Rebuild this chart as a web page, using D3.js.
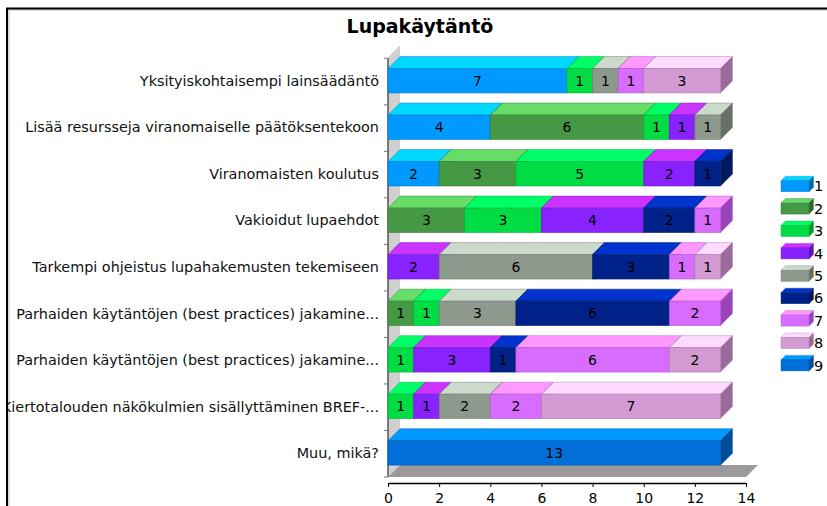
<!DOCTYPE html>
<html>
<head>
<meta charset="utf-8">
<script src="https://cdn.jsdelivr.net/npm/d3@7"></script>
<style>
  html, body { margin: 0; padding: 0; background: #ffffff; }
  svg { display: block; font-family: "DejaVu Sans", Verdana, sans-serif; }
</style>
</head>
<body>
<svg id="chart" width="827" height="506"></svg>
<script>
// ---- data ----
const title = "Lupakäytäntö";
const categories = [
  "Yksityiskohtaisempi lainsäädäntö",
  "Lisää resursseja viranomaiselle päätöksentekoon",
  "Viranomaisten koulutus",
  "Vakioidut lupaehdot",
  "Tarkempi ohjeistus lupahakemusten tekemiseen",
  "Parhaiden käytäntöjen (best practices) jakamine...",
  "Parhaiden käytäntöjen (best practices) jakamine...",
  "Kiertotalouden näkökulmien sisällyttäminen BREF-...",
  "Muu, mikä?"
];
const seriesNames = ["1", "2", "3", "4", "5", "6", "7", "8", "9"];
const s1 = [7, 4, 2, 0, 0, 0, 0, 0, 0];
const s2 = [0, 6, 3, 3, 0, 1, 0, 0, 0];
const s3 = [1, 1, 5, 3, 0, 1, 1, 1, 0];
const s4 = [0, 1, 2, 4, 2, 0, 3, 1, 0];
const s5 = [1, 1, 0, 0, 6, 3, 0, 2, 0];
const s6 = [0, 0, 1, 2, 3, 6, 1, 0, 0];
const s7 = [1, 0, 0, 1, 1, 2, 6, 2, 0];
const s8 = [3, 0, 0, 0, 1, 0, 2, 7, 0];
const s9 = [0, 0, 0, 0, 0, 0, 0, 0, 13];
const xTicks = [0, 2, 4, 6, 8, 10, 12, 14];

// ---- styles ----
const frontColors = ["#0099ff", "#459945", "#00dd44", "#8822ff", "#8e998e", "#002288", "#d86cff", "#d49ad4", "#006fd9"];
const topColors   = ["#00d8ff", "#66dd66", "#00ff66", "#cc33ff", "#ccdacc", "#0033cc", "#ff99ff", "#ffdcff", "#0099ff"];
const sideColors  = ["#0066aa", "#2e662e", "#009930", "#5c17aa", "#667066", "#001a5c", "#9944bb", "#9a6b9a", "#004c99"];

const allSeries = [s1, s2, s3, s4, s5, s6, s7, s8, s9];
const rows = categories.map((c, i) => {
  const r = { idx: i, cat: c };
  seriesNames.forEach((s, k) => { r[s] = allSeries[k][i]; });
  return r;
});

const svg = d3.select("#chart");
const D = 12; // 3D depth

const x = d3.scaleLinear().domain([0, 14]).range([388, 746]);
const y = d3.scaleBand().domain(d3.range(categories.length)).range([58.3, 477]).padding(0);
const bw = y.bandwidth();
const frontOff = bw * 0.22, frontH = bw * 0.525;

// ---- frame ----
svg.append("line").attr("x1", 6).attr("x2", 827).attr("y1", 10).attr("y2", 10).attr("stroke", "#bbbbbb").attr("stroke-width", 1);
svg.append("line").attr("x1", 9).attr("x2", 9).attr("y1", 9).attr("y2", 506).attr("stroke", "#bbbbbb").attr("stroke-width", 1);

// ---- title ----
svg.append("text").attr("x", 420).attr("y", 33).attr("text-anchor", "middle")
  .attr("font-size", 19).attr("font-weight", "bold").attr("fill", "#000").text(title);

// ---- wall & floor ----
const x0 = x(0), yTop = y.range()[0], yBot = y.range()[1];
svg.append("polygon")
  .attr("points", [[x0, yTop - 1], [x0 + D, yTop - D - 1], [x0 + D, yBot - D], [x0, yBot]].map(p => p.join(",")).join(" "))
  .attr("fill", "#d0d0d0");
svg.append("polygon")
  .attr("points", [[x0, yBot], [x0 + D, yBot - D], [x(14) + D, yBot - D], [x(14), yBot]].map(p => p.join(",")).join(" "))
  .attr("fill", "#9a9a9a");

// ---- y axis line & ticks ----
svg.append("line").attr("x1", x0).attr("x2", x0).attr("y1", yTop).attr("y2", yBot).attr("stroke", "#555").attr("stroke-width", 1.5);
const bounds = d3.range(categories.length + 1).map(i => yTop + i * bw);
svg.append("g").selectAll("line").data(bounds).join("line")
  .attr("x1", x0 - 4).attr("x2", x0).attr("y1", d => d).attr("y2", d => d)
  .attr("stroke", "#777").attr("stroke-width", 1);

// ---- bars ----
const stack = d3.stack().keys(seriesNames);
const stacked = stack(rows);
const segs = [];
rows.forEach((r, i) => {
  stacked.forEach((layer, k) => {
    const d = layer[i];
    if (d[1] - d[0] > 0) segs.push({ row: i, k, v0: d[0], v1: d[1], val: d[1] - d[0] });
  });
});

const gBars = svg.append("g");
segs.forEach(s => {
  const xa = x(s.v0), xb = x(s.v1);
  const yt = y(s.row) + frontOff, yb = yt + frontH;
  const stroke = d3.color(frontColors[s.k]).darker(0.6).formatHex();
  const g = gBars.append("g");
  g.append("polygon")
    .attr("points", [[xa, yt], [xa + D, yt - D], [xb + D, yt - D], [xb, yt]].map(p => p.join(",")).join(" "))
    .attr("fill", topColors[s.k]).attr("stroke", stroke).attr("stroke-width", 0.8).attr("stroke-opacity", 0.6);
  g.append("polygon")
    .attr("points", [[xb, yt], [xb + D, yt - D], [xb + D, yb - D], [xb, yb]].map(p => p.join(",")).join(" "))
    .attr("fill", sideColors[s.k]).attr("stroke", stroke).attr("stroke-width", 0.8).attr("stroke-opacity", 0.6);
  g.append("rect")
    .attr("x", xa).attr("y", yt).attr("width", xb - xa).attr("height", frontH)
    .attr("fill", frontColors[s.k]).attr("stroke", stroke).attr("stroke-width", 0.8).attr("stroke-opacity", 0.7);
  g.append("text")
    .attr("x", (xa + xb) / 2).attr("y", yt + frontH / 2).attr("dy", "0.36em")
    .attr("text-anchor", "middle").attr("font-size", 14).attr("fill", "#000")
    .text(s.val);
});

// ---- category labels ----
svg.append("defs").append("clipPath").attr("id", "lblclip")
  .append("rect").attr("x", 8).attr("y", 0).attr("width", 400).attr("height", 506);
svg.append("g").attr("clip-path", "url(#lblclip)")
  .selectAll("text").data(categories).join("text")
  .attr("x", 379).attr("y", (d, i) => y(i) + frontOff + frontH / 2).attr("dy", "0.36em")
  .attr("text-anchor", "end").attr("font-size", 14.4).attr("fill", "#111")
  .text(d => d);

// ---- x axis ----
const xAxis = d3.axisBottom(x).tickValues(xTicks).tickSizeInner(4).tickSizeOuter(0).tickPadding(6);
const gx = svg.append("g").attr("transform", "translate(0,483)").call(xAxis);
gx.select(".domain").attr("stroke", "#000").attr("stroke-width", 1.5);
gx.selectAll(".tick line").attr("stroke", "#000");
gx.selectAll(".tick text").attr("font-size", 14).attr("fill", "#000").attr("font-family", "DejaVu Sans, Verdana, sans-serif");

// ---- legend ----
const lg = svg.append("g");
const lw = 28, lh = 11, ld = 4.5;
seriesNames.forEach((name, k) => {
  const lx = 781, ly = 180.7 + k * 22.4;
  const stroke = d3.color(frontColors[k]).darker(0.6).formatHex();
  lg.append("polygon")
    .attr("points", [[lx, ly], [lx + ld, ly - ld], [lx + lw + ld, ly - ld], [lx + lw, ly]].map(p => p.join(",")).join(" "))
    .attr("fill", topColors[k]).attr("stroke", stroke).attr("stroke-width", 0.6).attr("stroke-opacity", 0.6);
  lg.append("polygon")
    .attr("points", [[lx + lw, ly], [lx + lw + ld, ly - ld], [lx + lw + ld, ly + lh - ld], [lx + lw, ly + lh]].map(p => p.join(",")).join(" "))
    .attr("fill", sideColors[k]).attr("stroke", stroke).attr("stroke-width", 0.6).attr("stroke-opacity", 0.6);
  lg.append("rect").attr("x", lx).attr("y", ly).attr("width", lw).attr("height", lh)
    .attr("fill", frontColors[k]).attr("stroke", stroke).attr("stroke-width", 0.6).attr("stroke-opacity", 0.7);
  lg.append("text").attr("x", lx + lw + ld + 0.5).attr("y", ly + lh / 2).attr("dy", "0.36em")
    .attr("font-size", 14.5).attr("fill", "#000").text(name);
});

// ---- frame (black lines on top) ----
svg.append("line").attr("x1", 6).attr("x2", 827).attr("y1", 8.5).attr("y2", 8.5).attr("stroke", "#000").attr("stroke-width", 2);
svg.append("line").attr("x1", 7).attr("x2", 7).attr("y1", 8).attr("y2", 506).attr("stroke", "#000").attr("stroke-width", 2);
</script>
</body>
</html>
